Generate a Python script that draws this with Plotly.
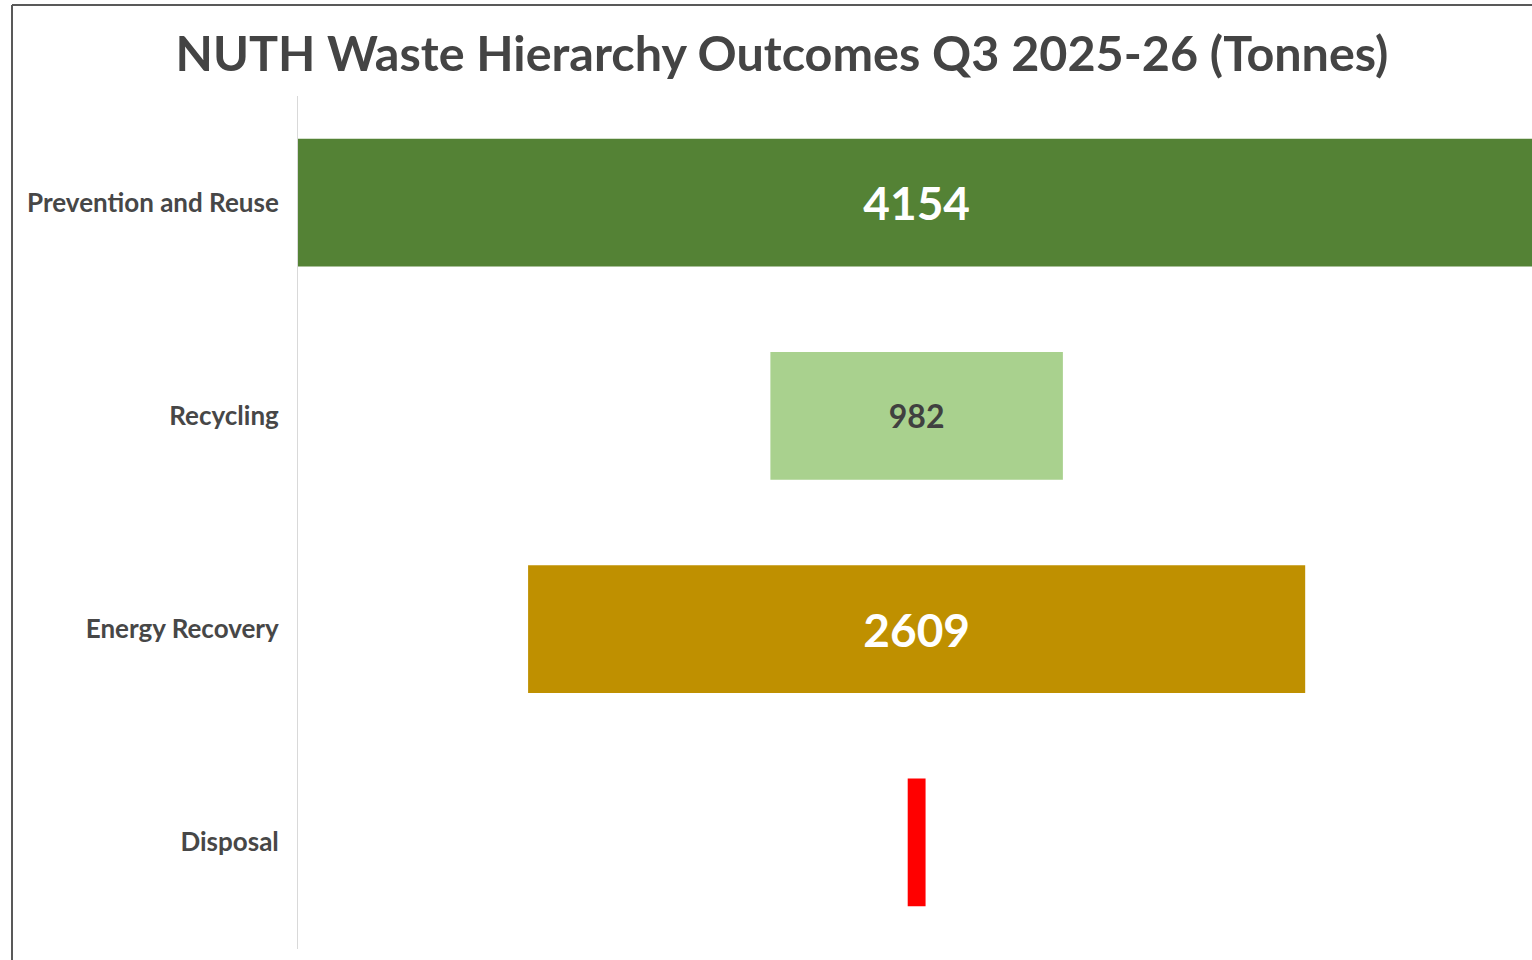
import plotly.graph_objects as go

categories = ["Prevention and Reuse", "Recycling", "Energy Recovery", "Disposal"]
values = [4154, 982, 2609, 60]
labels = ["4154", "982", "2609", ""]
bar_colors = ["#548235", "#A9D18E", "#BF9000", "#FF0000"]
label_colors = ["#FFFFFF", "#404040", "#FFFFFF", "#FFFFFF"]
label_sizes = [46, 32, 46, 20]

W, H = 1532, 960
ML, MR, MT, MB = 298, 0, 96, 11

fig = go.Figure(go.Funnel(
    y=categories,
    x=values,
    text=labels,
    textinfo="text",
    textposition="inside",
    insidetextanchor="middle",
    textfont=dict(family="Lato", size=label_sizes, color=label_colors, weight="bold"),
    marker=dict(color=bar_colors, line=dict(width=0)),
    connector=dict(visible=False),
    hoverinfo="y+x",
))

pw = W - ML - MR
ph = H - MT - MB
def px_x(x):
    return (x - ML) / pw
def px_y(y):
    return (H - MB - y) / ph

fig.update_layout(
    width=W, height=H,
    margin=dict(l=ML, r=MR, t=MT, b=MB, autoexpand=False),
    paper_bgcolor="white",
    plot_bgcolor="white",
    funnelgap=0.4,
    showlegend=False,
    font=dict(family="Lato", color="#404040"),
    title=dict(
        text="<b>NUTH Waste Hierarchy Outcomes Q3 2025-26 (Tonnes)</b>",
        x=782 / W, xanchor="center", xref="container",
        y=1 - 54 / H, yanchor="middle", yref="container",
        font=dict(family="Lato", size=48.5, color="#444444"),
    ),
    xaxis=dict(visible=False, range=[-2077, 2066], fixedrange=True),
    yaxis=dict(
        showline=True, linecolor="#D9D9D9", linewidth=1,
        showgrid=False, zeroline=False,
        ticks="", ticklabelstandoff=13,
        tickfont=dict(family="Lato", size=26, color="#474747", weight="bold"),
    ),
    shapes=[
        dict(type="line", xref="paper", yref="paper",
             x0=px_x(12), x1=px_x(12), y0=px_y(H + 5), y1=px_y(5),
             line=dict(color="#595959", width=2)),
        dict(type="line", xref="paper", yref="paper",
             x0=px_x(12), x1=px_x(W + 5), y0=px_y(5), y1=px_y(5),
             line=dict(color="#595959", width=2)),
    ],
)

fig.write_html(
    "out.html",
    config={"displayModeBar": False},
    post_script="document.body.style.margin='0';document.body.style.overflow='hidden';",
)
